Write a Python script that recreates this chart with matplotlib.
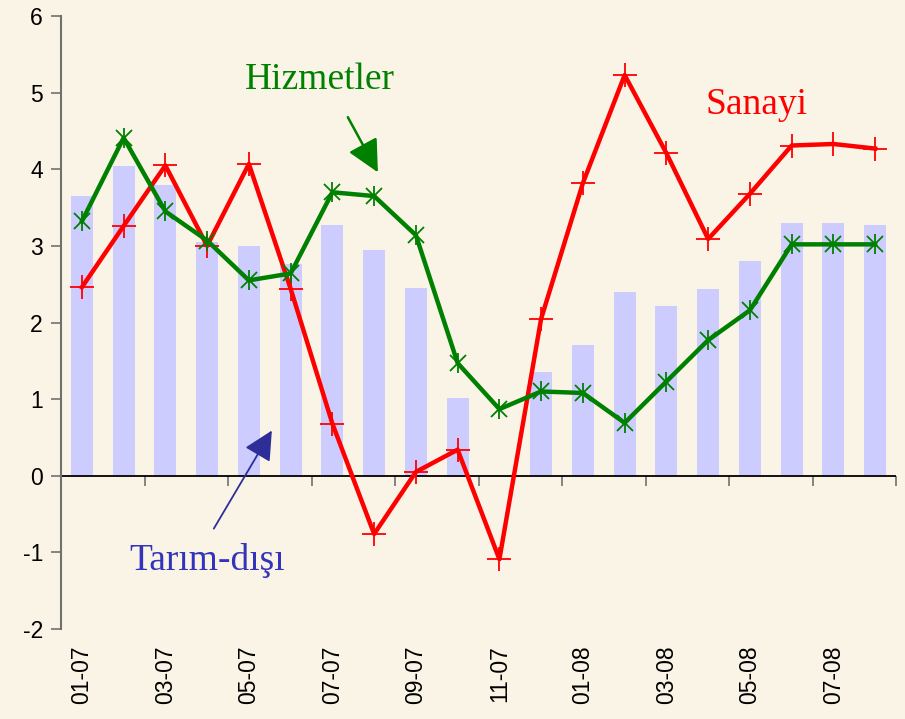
import matplotlib
matplotlib.use("Agg")
import matplotlib.pyplot as plt
import numpy as np

plt.rcParams["axes.unicode_minus"] = False

months = ["01-07", "02-07", "03-07", "04-07", "05-07", "06-07", "07-07", "08-07",
          "09-07", "10-07", "11-07", "12-07", "01-08", "02-08", "03-08", "04-08",
          "05-08", "06-08", "07-08", "08-08"]
tarim_disi = [3.65, 4.04, 3.80, 3.05, 3.00, 2.77, 3.27, 2.95, 2.45, 1.02,
              -0.02, 1.36, 1.71, 2.40, 2.22, 2.44, 2.80, 3.30, 3.30, 3.27]
sanayi = [2.46, 3.26, 4.05, 3.00, 4.07, 2.44, 0.68, -0.76, 0.05, 0.34,
          -1.09, 2.05, 3.82, 5.23, 4.21, 3.09, 3.68, 4.31, 4.33, 4.27]
hizmetler = [3.32, 4.41, 3.45, 3.07, 2.55, 2.64, 3.70, 3.65, 3.14, 1.47,
             0.87, 1.10, 1.08, 0.69, 1.23, 1.77, 2.16, 3.02, 3.02, 3.02]

bg = "#FAF4E6"
fig = plt.figure(figsize=(9.05, 7.19), dpi=100, facecolor=bg)
ax = fig.add_axes([0.0674, 0.1252, 0.9227, 0.8525])
ax.set_facecolor(bg)

x = np.arange(len(months))
ax.bar(x, tarim_disi, width=0.53, color="#CCCCFF", zorder=1)
ax.axhline(0, color="black", lw=1.3, zorder=2)
ax.plot(x, sanayi, color="#FF0000", lw=3.2, marker="+", markersize=17,
        markeredgewidth=1.3, zorder=3)
ax.plot(x, hizmetler, color="#008000", lw=3.2, zorder=4)
ax.plot(x, hizmetler, ls="none", color="#008000", marker="x", markersize=11,
        markeredgewidth=1.3, zorder=5)
ax.plot(x, hizmetler, ls="none", color="#008000", marker="|", markersize=14,
        markeredgewidth=1.3, zorder=5)

ax.set_xlim(-0.5, len(months) - 0.5)
ax.set_ylim(-2, 6)
ax.set_yticks(range(-2, 7))
ax.tick_params(axis="y", direction="out", length=7, width=1.2, color="#707070",
               labelsize=16.5, pad=6)
for lab in ax.get_yticklabels():
    lab.set_fontfamily("Liberation Sans")

ax.set_xticks(x[::2])
ax.set_xticklabels(months[::2], rotation=90, fontsize=16.5, family="Liberation Sans")
ax.tick_params(axis="x", length=0, pad=12)

for s in ["top", "right", "bottom"]:
    ax.spines[s].set_visible(False)
ax.spines["left"].set_color("#707070")
ax.spines["left"].set_linewidth(1.5)

# tick marks on the zero line at category boundaries
sec = ax.secondary_xaxis(0.25)
sec.set_xticks(np.arange(-0.5, len(months), 2))
sec.set_xticklabels([])
sec.tick_params(direction="out", length=7, width=1.2, color="#707070")
sec.spines["bottom"].set_visible(False)

ax.text(5.70, 5.17, "Hizmetler", color="#008000", fontsize=27,
        family="Liberation Serif", ha="center", va="center")
ax.annotate("", xy=(7.09, 3.96), xytext=(6.37, 4.68),
            arrowprops=dict(arrowstyle="-|>,head_length=1.1,head_width=0.55",
                            color="#008000", lw=1.8, mutation_scale=18,
                            shrinkA=0, shrinkB=0))
ax.text(16.15, 4.84, "Sanayi", color="#FF0000", fontsize=27,
        family="Liberation Serif", ha="center", va="center")
ax.text(3.0, -1.10, "Tarım-dışı", color="#3333BB", fontsize=27,
        family="Liberation Serif", ha="center", va="center")
ax.annotate("", xy=(4.55, 0.59), xytext=(3.16, -0.69),
            arrowprops=dict(arrowstyle="-|>,head_length=1.0,head_width=0.5",
                            color="#2E2E99", lw=1.3, mutation_scale=18,
                            shrinkA=0, shrinkB=0))

fig.savefig("out.png", dpi=100, facecolor=bg)
